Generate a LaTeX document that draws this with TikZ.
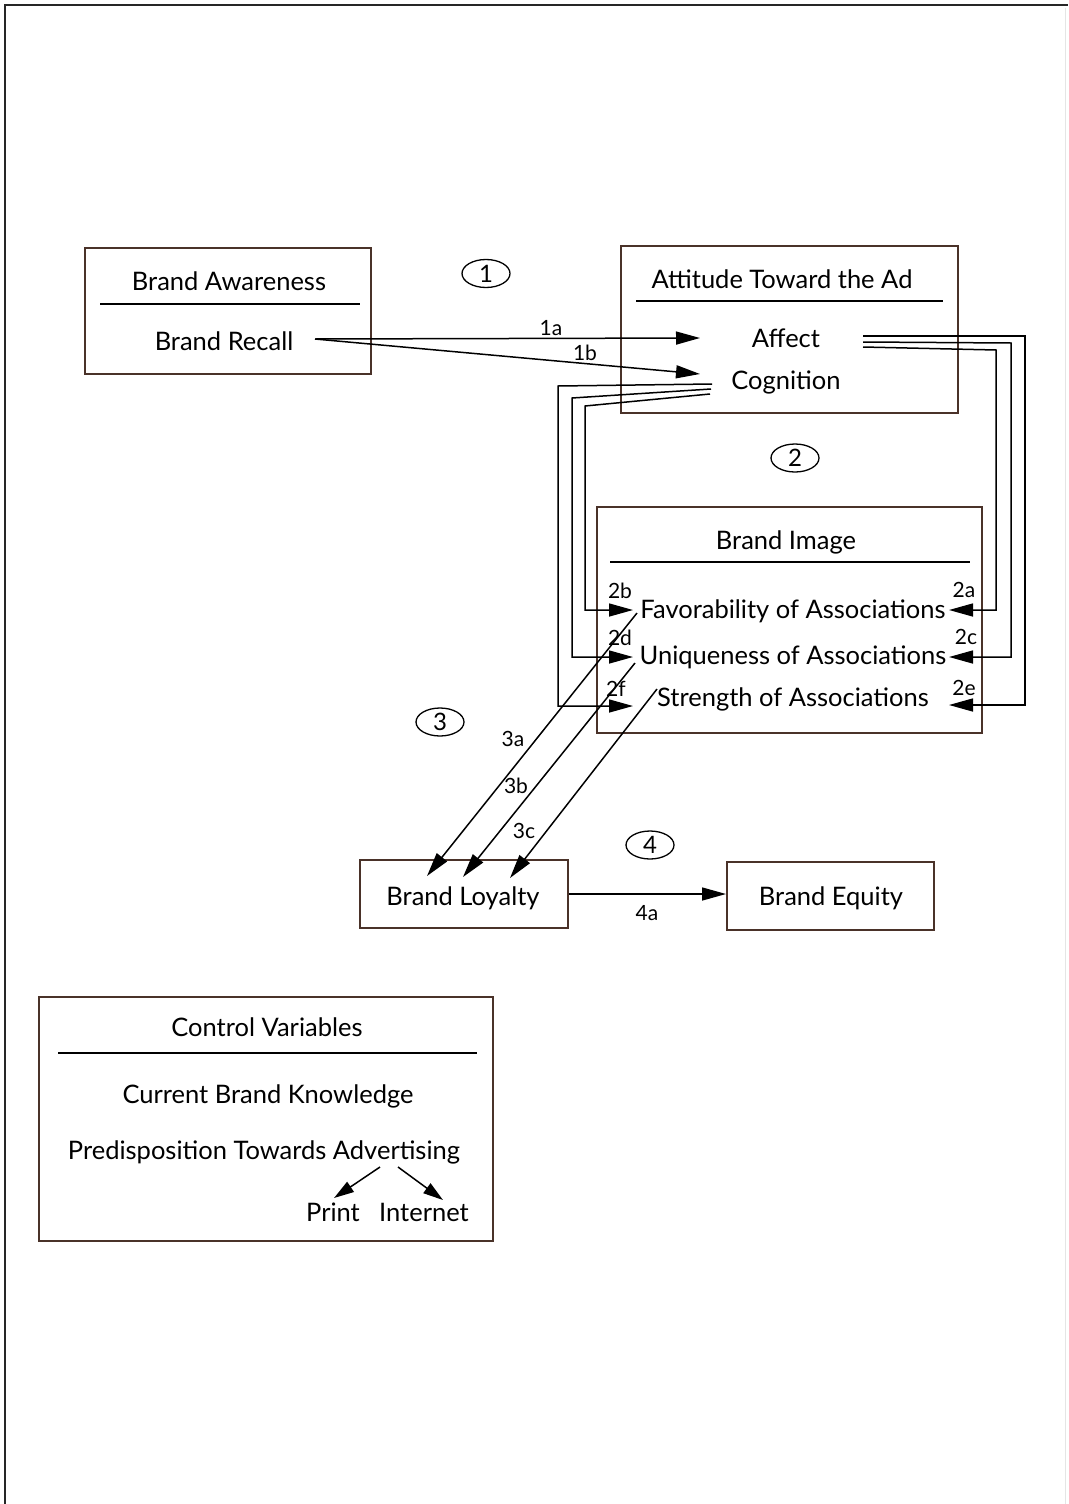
\documentclass[tikz,border=0pt]{standalone}
\usepackage{fontspec}
\setmainfont{Lato}
\usetikzlibrary{arrows.meta,shapes.geometric}
\definecolor{boxc}{HTML}{4A3229}
\begin{document}
\begin{tikzpicture}[x=1pt,y=-1pt,
  box/.style={draw=boxc, line width=1.9pt, inner sep=0pt},
  rule/.style={draw=black, line width=1.4pt},
  txt/.style={font=\fontsize{25.5}{30}\selectfont, inner sep=0pt, anchor=base},
  tag/.style={font=\fontsize{21}{24}\selectfont, inner sep=0pt, anchor=base},
  num/.style={draw=black, ellipse, line width=1.3pt, minimum width=48pt, minimum height=28pt, inner sep=0pt, font=\fontsize{24}{26}\selectfont},
  link/.style={draw=black, line width=1.5pt},
  arr/.style={link, -{Triangle[length=24pt,width=13pt]}},
  sarr/.style={link, -{Triangle[length=20pt,width=12pt]}}
]
\useasboundingbox (0,0) rectangle (1068,1504);
\fill[white] (0,0) rectangle (1068,1504);
% page frame
\draw[line width=2pt, black!85] (5,1504) -- (5,5) -- (1068,5);
\draw[line width=0.8pt, black!10] (1065,8) -- (1065,1504);

% ---- Brand Awareness
\node[box, minimum width=286pt, minimum height=126pt] (aw) at (228,311) {};
\node[txt] (awT) at (229,290) {Brand Awareness};
\draw[rule] (100,304) -- (360,304);
\node[txt] (recall) at (224,350) {Brand Recall};

% ---- Attitude toward the ad
\node[box, minimum width=337pt, minimum height=167pt] (att) at (789.5,329.5) {};
\node[txt] (attT) at (782,288) {Attitude Toward the Ad};
\draw[rule] (636,301) -- (943,301);
\node[txt] (affect) at (786,347) {Affect};
\node[txt] (cog) at (786,389) {Cognition};

% ---- Brand image
\node[box, minimum width=385pt, minimum height=226pt] (img) at (789.5,620) {};
\node[txt] (imgT) at (786,549) {Brand Image};
\draw[rule] (610,562) -- (970,562);
\node[txt] (fav) at (793,618) {Favorability of Associations};
\node[txt] (uni) at (793,664) {Uniqueness of Associations};
\node[txt] (str) at (793,706) {Strength of Associations};

% ---- Loyalty and equity
\node[box, minimum width=208pt, minimum height=68pt] (loy) at (464,894) {};
\node[txt] (loyT) at (463,905) {Brand Loyalty};
\node[box, minimum width=207pt, minimum height=68pt] (eq) at (830.5,896) {};
\node[txt] (eqT) at (831,905) {Brand Equity};

% ---- Control variables
\node[box, minimum width=454pt, minimum height=244pt] (ctl) at (266,1119) {};
\node[txt] (ctlT) at (267,1036) {Control Variables};
\draw[rule] (58,1053) -- (477,1053);
\node[txt] (cbk) at (268,1103) {Current Brand Knowledge};
\node[txt] (pta) at (264,1159) {Predisposition Towards Advertising};
\node[txt] (print) at (333,1221) {Print};
\node[txt] (inet) at (424,1221) {Internet};

% ---- numbered stages
\node[num] (n1) at (486,273.5) {1};
\node[num] (n2) at (795,458) {2};
\node[num] (n3) at (440,722) {3};
\node[num] (n4) at (650,845) {4};

% ---- connector end points
\coordinate (rcOut) at (315,339);
\coordinate (affIn) at (700,338);
\coordinate (cogIn) at (700,374);
\coordinate (cogOutA) at (712,384);
\coordinate (cogOutB) at (711,389);
\coordinate (cogOutC) at (710,394);
\coordinate (affOutA) at (863,336);
\coordinate (affOutB) at (863,342);
\coordinate (affOutC) at (863,347);
\coordinate (favL) at (633,610);
\coordinate (uniL) at (633,657);
\coordinate (strL) at (633,706);
\coordinate (favR) at (949,610);
\coordinate (uniR) at (949,657);
\coordinate (strR) at (949,705);
\coordinate (favD) at (637,613);
\coordinate (uniD) at (635,663);
\coordinate (strD) at (657,689);
\coordinate (loyA) at (427,876);
\coordinate (loyB) at (463,877);
\coordinate (loyC) at (510,878);
\coordinate (loyOut) at (569,894);
\coordinate (eqIn) at (726,894);
\coordinate (ptaA) at (380,1167);
\coordinate (ptaB) at (398,1167);
\coordinate (printIn) at (334,1198);
\coordinate (inetIn) at (443,1200);

% ---- 1: awareness -> attitude
\draw[arr] (rcOut) -- (affIn);
\draw[arr] (rcOut) -- (cogIn);
\node[tag] at (551,335) {1a};
\node[tag] at (585,360) {1b};

% ---- 2: attitude -> image
\draw[arr] (cogOutC) -- (585,406) -- (585,610) -- (favL);
\draw[arr] (cogOutB) -- (572,398) -- (572,657) -- (uniL);
\draw[arr] (cogOutA) -- (558,386) -- (558,706) -- (strL);
\draw[arr] (affOutC) -- (996,350) -- (996,610) -- (favR);
\draw[arr] (affOutB) -- (1011,343) -- (1011,657) -- (uniR);
\draw[arr] (affOutA) -- (1025,336) -- (1025,705) -- (strR);
\node[tag] at (620,598) {2b};
\node[tag] at (620,645) {2d};
\node[tag] at (616,696) {2f};
\node[tag] at (964,597) {2a};
\node[tag] at (966,644) {2c};
\node[tag] at (964,695) {2e};

% ---- 3: image -> loyalty
\draw[arr] (favD) -- (loyA);
\draw[arr] (uniD) -- (loyB);
\draw[arr] (strD) -- (loyC);
\node[tag] at (513,746) {3a};
\node[tag] at (516,793) {3b};
\node[tag] at (524,838) {3c};

% ---- 4: loyalty -> equity
\draw[arr] (loyOut) -- (eqIn);
\node[tag] at (647,920) {4a};

% ---- advertising medium split
\draw[sarr] (ptaA) -- (printIn);
\draw[sarr] (ptaB) -- (inetIn);
\end{tikzpicture}
\end{document}
